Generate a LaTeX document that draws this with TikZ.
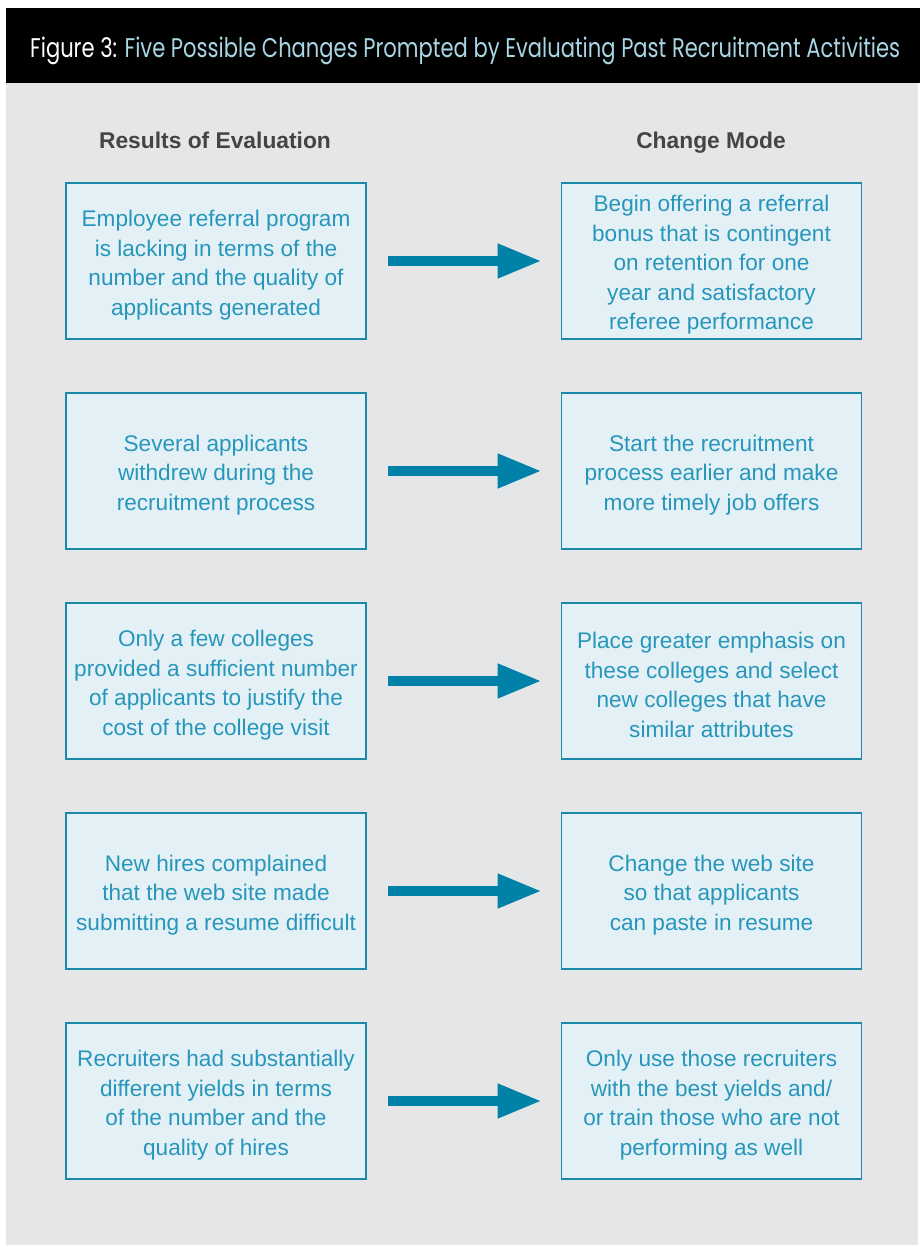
\documentclass[tikz,border=0pt]{standalone}
\usepackage{fontspec}
\setmainfont{Liberation Sans}
\newfontfamily\titlefont{Poppins}
\usetikzlibrary{arrows.meta}
\definecolor{bggray}{HTML}{E5E6E8}
\definecolor{boxfill}{HTML}{E3F1F7}
\definecolor{boxline}{HTML}{1A8AAB}
\definecolor{boxtext}{HTML}{2796BA}
\definecolor{arrowcol}{HTML}{0082A8}
\definecolor{headcol}{HTML}{444444}
\definecolor{titleblue}{HTML}{A9D6E4}
\tikzset{
  x=1pt, y=-1pt,
  box/.style={draw=boxline, line width=1.6pt, fill=boxfill, minimum width=300pt, minimum height=156pt, inner sep=0pt},
  btext/.style={inner sep=0pt, align=center, text=boxtext, font=\fontsize{22.6}{29.5}\selectfont},
  heading/.style={text=headcol, font=\fontsize{22.8}{26}\selectfont\bfseries, inner sep=0pt, anchor=base},
  bigarrow/.style={draw=arrowcol, line width=10pt, -{Triangle[length=44pt, width=32pt]}, fill=arrowcol}
}
\begin{document}
\begin{tikzpicture}
\useasboundingbox (0,0) rectangle (920,1247);
\fill[white] (0,0) rectangle (920,1247);
\fill[bggray] (6,82) rectangle (918,1245);
\fill[black] (6,8) rectangle (920,82.5);
\node[anchor=base west, inner sep=0pt, font=\titlefont\fontsize{27}{30}\selectfont] (title) at (30,57)
  {\resizebox{870pt}{\height}{\textcolor{white}{Figure 3:} \textcolor{titleblue}{Five Possible Changes Prompted by Evaluating Past Recruitment Activities}}};
\node[heading] (hl) at (215,148) {Results of Evaluation};
\node[heading] (hr) at (711,148) {Change Mode};

\foreach \i/\yy in {1/261,2/471,3/681,4/891,5/1101}{
  \node[box] (L\i) at (216,\yy) {};
  \node[box] (R\i) at (711.5,\yy) {};
}
\node[btext] (L1t) at ([yshift=-4pt]L1.center) {Employee referral program\\is lacking in terms of the\\number and the quality of\\applicants generated};
\node[btext] (R1t) at ([yshift=-4pt]R1.center) {Begin offering a referral\\bonus that is contingent\\on retention for one\\year and satisfactory\\referee performance};
\node[btext] (L2t) at ([yshift=-4pt]L2.center) {Several applicants\\withdrew during the\\recruitment process};
\node[btext] (R2t) at ([yshift=-4pt]R2.center) {Start the recruitment\\process earlier and make\\more timely job offers};
\node[btext] (L3t) at ([yshift=-4pt]L3.center) {Only a few colleges\\provided a sufficient number\\of applicants to justify the\\cost of the college visit};
\node[btext] (R3t) at ([yshift=-4pt]R3.center) {Place greater emphasis on\\these colleges and select\\new colleges that have\\similar attributes};
\node[btext] (L4t) at ([yshift=-4pt]L4.center) {New hires complained\\that the web site made\\submitting a resume difficult};
\node[btext] (R4t) at ([yshift=-4pt]R4.center) {Change the web site\\so that applicants\\can paste in resume};
\node[btext] (L5t) at ([yshift=-4pt]L5.center) {Recruiters had substantially\\different yields in terms\\of the number and the\\quality of hires};
\node[btext] (R5t) at ([yshift=-4pt]R5.center) {Only use those recruiters\\with the best yields and/\\or train those who are not\\performing as well};

\foreach \i in {1,...,5}{
  \draw[bigarrow] ([xshift=21pt]L\i.east) -- ([xshift=-19pt]R\i.west);
}
\end{tikzpicture}
\end{document}
